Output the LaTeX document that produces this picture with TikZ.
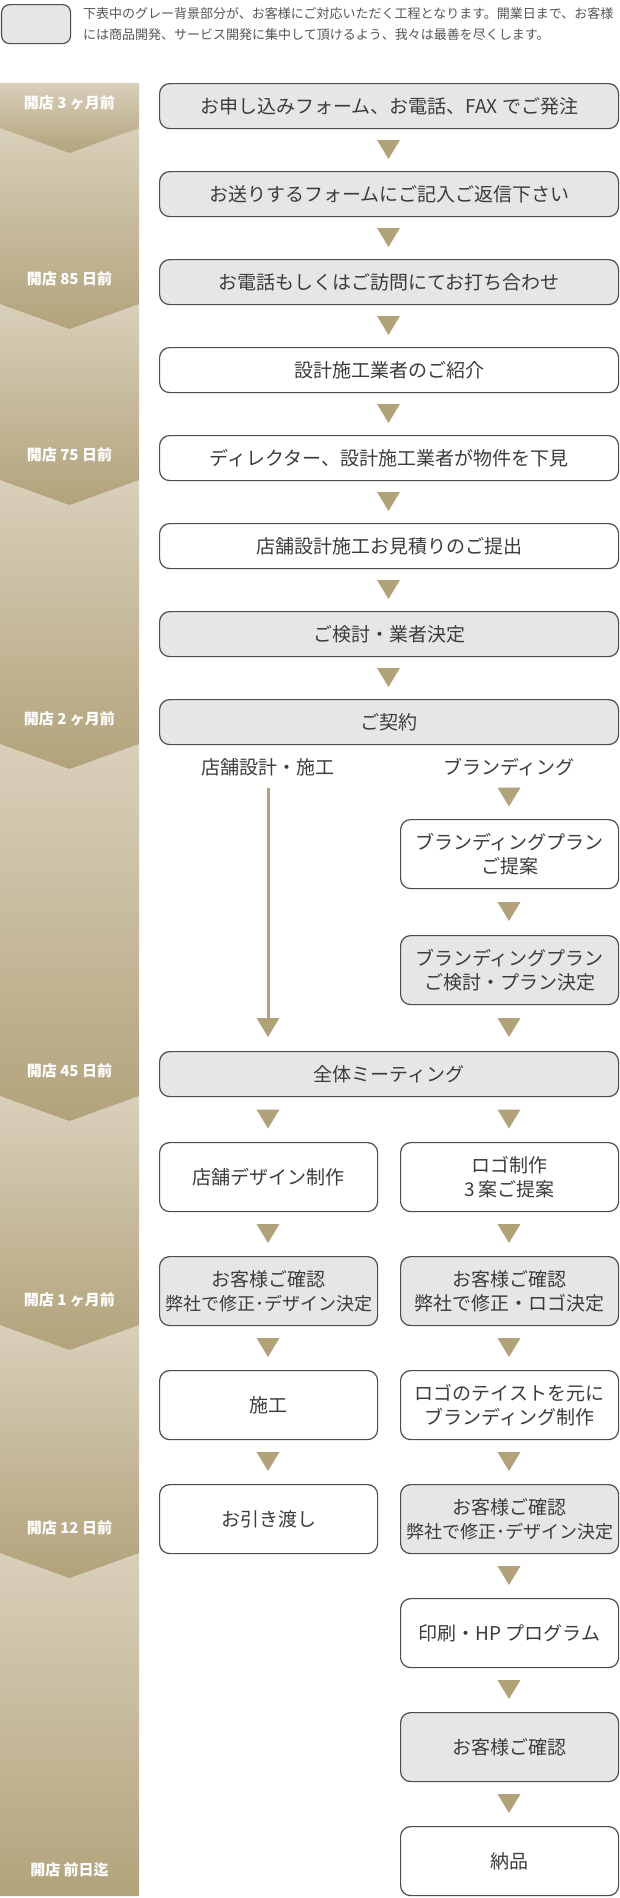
\documentclass[tikz,border=0pt]{standalone}
\usepackage{fontspec}
\setmainfont{Noto Sans CJK JP}
\definecolor{boxgray}{HTML}{E6E6E6}
\definecolor{boxline}{HTML}{4D4D4D}
\definecolor{txt}{HTML}{3C3C3C}
\definecolor{legtxt}{HTML}{555555}
\definecolor{gold}{HTML}{B2A279}
\definecolor{bandlight}{HTML}{D9D0BB}
\definecolor{banddark}{HTML}{B2A37B}
\newcommand\goldtri[2]{\fill[gold] (#1-11.5,#2-9.5) -- (#1+11.5,#2-9.5) -- (#1,#2+9.5) -- cycle;}
\newcommand\bandseg[3]{\shade[top color=bandlight,bottom color=banddark] (0,#1) -- (139,#1) -- (139,#2) -- (69.5,#3) -- (0,#2) -- cycle;}
\newcommand\smalltxt{\fontsize{18}{24}\selectfont}
\tikzset{
  box/.style={draw=boxline, line width=1.2pt, rounded corners=10pt, inner sep=0pt,
    align=center, font=\fontsize{19}{24}\selectfont, text=txt, anchor=north west},
  graybox/.style={box, fill=boxgray},
  whitebox/.style={box, fill=white},
  full/.style={minimum width=459pt, minimum height=45pt},
  col/.style={minimum width=218pt, minimum height=69pt},
  bandlabel/.style={text=white, font=\bfseries\fontsize{15}{17}\selectfont, inner sep=0pt},
  sublabel/.style={text=txt, font=\fontsize{19}{24}\selectfont, inner sep=0pt},
  legtext/.style={text=legtxt, font=\fontsize{13}{16}\selectfont, inner sep=0pt, anchor=west},
  goldline/.style={draw=gold, line width=3pt}
}
\begin{document}
\begin{tikzpicture}[x=1pt,y=-1pt]
\useasboundingbox (0,0) rectangle (620,1898);
% legend
\node[draw=boxline, fill=boxgray, rounded corners=8pt, line width=1.2pt,
  minimum width=69pt, minimum height=39pt, anchor=north west, inner sep=0pt] (legend) at (1,4) {};
\node[legtext] (leg1) at (83,14) {下表中のグレー背景部分が、お客様にご対応いただく工程となります。開業日まで、お客様};
\node[legtext] (leg2) at (83,35) {には商品開発、サービス開発に集中して頂けるよう、我々は最善を尽くします。};
% band
\bandseg{1553}{1896}{1896}
\bandseg{1325}{1553}{1578}
\bandseg{1096}{1325}{1350}
\bandseg{744}{1096}{1121}
\bandseg{480}{744}{769}
\bandseg{304}{480}{505}
\bandseg{128}{304}{329}
\bandseg{83}{128}{153}
\node[bandlabel] (t1) at (69.5,103) {開店 3 ヶ月前};
\node[bandlabel] (t2) at (69.5,279) {開店 85 日前};
\node[bandlabel] (t3) at (69.5,455) {開店 75 日前};
\node[bandlabel] (t4) at (69.5,719) {開店 2 ヶ月前};
\node[bandlabel] (t5) at (69.5,1071) {開店 45 日前};
\node[bandlabel] (t6) at (69.5,1300) {開店 1 ヶ月前};
\node[bandlabel] (t7) at (69.5,1528) {開店 12 日前};
\node[bandlabel] (t8) at (69.5,1870) {開店 前日迄};
% full-width boxes
\node[graybox, full] (b1) at (159,83) {お申し込みフォーム、お電話、FAX でご発注};
\node[graybox, full] (b2) at (159,171) {お送りするフォームにご記入ご返信下さい};
\node[graybox, full] (b3) at (159,259) {お電話もしくはご訪問にてお打ち合わせ};
\node[whitebox, full] (b4) at (159,347) {設計施工業者のご紹介};
\node[whitebox, full] (b5) at (159,435) {ディレクター、設計施工業者が物件を下見};
\node[whitebox, full] (b6) at (159,523) {店舗設計施工お見積りのご提出};
\node[graybox, full] (b7) at (159,611) {ご検討・業者決定};
\node[graybox, full] (b8) at (159,699) {ご契約};
\goldtri{388.5}{149.5}
\goldtri{388.5}{237.5}
\goldtri{388.5}{325.5}
\goldtri{388.5}{413.5}
\goldtri{388.5}{501.5}
\goldtri{388.5}{589.5}
\goldtri{388.5}{677.5}
% branch labels
\node[sublabel] (labL) at (268,767) {店舗設計・施工};
\node[sublabel] (labR) at (509,767) {ブランディング};
\coordinate (lineEnd) at (268,1019);
\draw[goldline] (268,788) -- (lineEnd);
\goldtri{268}{1027.5}
\goldtri{509}{797}
\node[whitebox, col] (r1) at (400,819) {ブランディングプラン\\ご提案};
\goldtri{509}{911.5}
\node[graybox, col] (r2) at (400,935) {ブランディングプラン\\ご検討・プラン決定};
\goldtri{509}{1027.5}
\node[graybox, full] (all) at (159,1051) {全体ミーティング};
\goldtri{268}{1119}
\goldtri{509}{1119}
\node[whitebox, col] (la) at (159,1142) {店舗デザイン制作};
\node[whitebox, col] (ra) at (400,1142) {ロゴ制作\\3 案ご提案};
\goldtri{268}{1233.5}
\goldtri{509}{1233.5}
\node[graybox, col] (lb) at (159,1256) {お客様ご確認\\{\smalltxt 弊社で修正･デザイン決定}};
\node[graybox, col] (rb) at (400,1256) {お客様ご確認\\弊社で修正・ロゴ決定};
\goldtri{268}{1347.5}
\goldtri{509}{1347.5}
\node[whitebox, col] (lc) at (159,1370) {施工};
\node[whitebox, col] (rc) at (400,1370) {ロゴのテイストを元に\\ブランディング制作};
\goldtri{268}{1461.5}
\goldtri{509}{1461.5}
\node[whitebox, col] (ld) at (159,1484) {お引き渡し};
\node[graybox, col] (rd) at (400,1484) {お客様ご確認\\{\smalltxt 弊社で修正･デザイン決定}};
\goldtri{509}{1575.5}
\node[whitebox, col] (re) at (400,1598) {印刷・HP プログラム};
\goldtri{509}{1689.5}
\node[graybox, col] (rf) at (400,1712) {お客様ご確認};
\goldtri{509}{1803.5}
\node[whitebox, col] (rg) at (400,1826) {納品};
\end{tikzpicture}
\end{document}
